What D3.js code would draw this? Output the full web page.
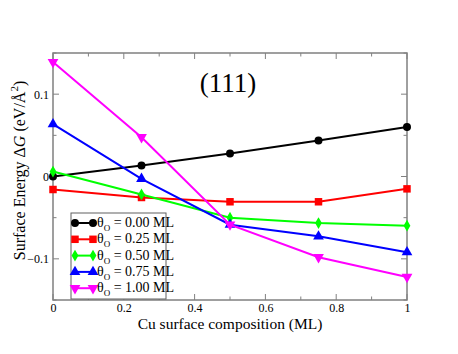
<!DOCTYPE html>
<html>
<head>
<meta charset="utf-8">
<script src="https://cdn.jsdelivr.net/npm/d3@7"></script>
<style>
  body { margin: 0; background: #fff; }
  text { font-family: 'Liberation Serif', 'Times New Roman', serif; }
</style>
</head>
<body>
<div id="chart"></div>
<script>
let xs = [0, 0.25, 0.5, 0.75, 1]
let labels = ['0.00', '0.25', '0.50', '0.75', '1.00']
let theta000 = [0.0, 0.0133, 0.028, 0.0436, 0.060]
let theta025 = [-0.0158, -0.0255, -0.0307, -0.0307, -0.015]
let theta050 = [0.006, -0.0218, -0.050, -0.0565, -0.0598]
let theta075 = [0.0635, -0.0028, -0.0585, -0.0727, -0.092]
let theta100 = [0.139, 0.0477, -0.0585, -0.098, -0.122]
let colors = ['#000000', '#ff0000', '#00ff00', '#0000ff', '#ff00ff']
let symbols = ['circle', 'square', 'diamond', 'triangle', 'triangledown']
let xTicks = [0, 0.2, 0.4, 0.6, 0.8, 1]
let yTicks = [-0.1, 0, 0.1]

let series = [theta000, theta025, theta050, theta075, theta100].map((vals, i) => {
  return {
    label: labels[i],
    color: colors[i],
    symbol: symbols[i],
    values: vals.map((v, j) => ({ x: xs[j], y: v }))
  }
})

let margin = { top: 53, left: 53, right: 51, bottom: 54 }
let width = 458 - margin.left - margin.right
let height = 354 - margin.top - margin.bottom

let svg = d3
  .select('#chart')
  .append('svg')
  .attr('width', 458)
  .attr('height', 354)
  .append('g')
  .attr('transform', 'translate(' + margin.left + ',' + margin.top + ')')

let xPositionScale = d3.scaleLinear().domain([0, 1]).range([0, width])
let yPositionScale = d3.scaleLinear().domain([-0.15, 0.15]).range([height, 0])

let frameColor = '#808080'

// ticks pointing inward on all four sides
function drawTicks() {
  let g = svg.append('g').attr('class', 'ticks')
  d3.range(0, 1.0001, 0.1).forEach((t, i) => {
    let len = i % 2 === 0 ? 6 : 3.5
    let x = xPositionScale(t)
    g.append('line').attr('x1', x).attr('x2', x).attr('y1', height).attr('y2', height - len)
    g.append('line').attr('x1', x).attr('x2', x).attr('y1', 0).attr('y2', len)
  })
  d3.range(-0.15, 0.1501, 0.05).forEach((t, i) => {
    let len = i % 2 === 1 ? 6 : 3.5
    let y = yPositionScale(t)
    g.append('line').attr('x1', 0).attr('x2', len).attr('y1', y).attr('y2', y)
    g.append('line').attr('x1', width).attr('x2', width - len).attr('y1', y).attr('y2', y)
  })
  g.selectAll('line').attr('stroke', frameColor).attr('stroke-width', 1)
}
drawTicks()

svg
  .append('rect')
  .attr('x', 0)
  .attr('y', 0)
  .attr('width', width)
  .attr('height', height)
  .attr('fill', 'none')
  .attr('stroke', frameColor)
  .attr('stroke-width', 1.5)

let xAxis = d3
  .axisBottom(xPositionScale)
  .tickValues(xTicks)
  .tickSize(0)
  .tickPadding(3)
  .tickFormat(d => (d === 0 || d === 1 ? d3.format('d')(d) : d3.format('.1f')(d)))

svg
  .append('g')
  .attr('class', 'axis x-axis')
  .attr('transform', 'translate(0,' + height + ')')
  .call(xAxis)

let yAxis = d3
  .axisLeft(yPositionScale)
  .tickValues(yTicks)
  .tickSize(0)
  .tickPadding(4)
  .tickFormat(d => (d === 0 ? '0' : d3.format('.1f')(d)))

svg
  .append('g')
  .attr('class', 'axis y-axis')
  .call(yAxis)

svg.selectAll('.axis .domain').remove()
svg
  .selectAll('.axis text')
  .attr('font-family', "'Liberation Serif', serif")
  .attr('font-size', 12)
  .attr('fill', '#000')

let line = d3
  .line()
  .x(d => xPositionScale(d.x))
  .y(d => yPositionScale(d.y))

let symbolTypes = {
  circle: d3.symbol().type(d3.symbolCircle).size(50),
  square: d3.symbol().type(d3.symbolSquare).size(56),
  diamond: d3.symbol().type(d3.symbolDiamond).size(40),
  triangle: d3.symbol().type(d3.symbolTriangle).size(50),
  triangledown: d3.symbol().type(d3.symbolTriangle).size(50)
}

series.forEach(s => {
  svg
    .append('path')
    .datum(s.values)
    .attr('d', line)
    .attr('fill', 'none')
    .attr('stroke', s.color)
    .attr('stroke-width', 2)

  svg
    .selectAll('.pt-' + s.symbol)
    .data(s.values)
    .enter()
    .append('path')
    .attr('class', 'pt-' + s.symbol)
    .attr('d', symbolTypes[s.symbol])
    .attr('transform', d => {
      let t = 'translate(' + xPositionScale(d.x) + ',' + yPositionScale(d.y) + ')'
      if (s.symbol === 'triangledown') t += ' rotate(180)'
      return t
    })
    .attr('fill', s.color)
})

// title
svg
  .append('text')
  .attr('x', 175)
  .attr('y', 39)
  .attr('text-anchor', 'middle')
  .attr('font-size', 27)
  .text('(111)')

// axis labels
svg
  .append('text')
  .attr('x', width / 2)
  .attr('y', height + 29)
  .attr('text-anchor', 'middle')
  .attr('font-size', 15.5)
  .text('Cu surface composition (ML)')

let yLabel = svg
  .append('text')
  .attr('transform', 'translate(' + (-28) + ',' + (yPositionScale(0) - 6) + ') rotate(-90)')
  .attr('text-anchor', 'middle')
  .attr('font-size', 16)
yLabel.append('tspan').text('Surface Energy Δ')
yLabel.append('tspan').attr('font-style', 'italic').text('G')
yLabel.append('tspan').text(' (eV/Å')
yLabel.append('tspan').attr('font-size', 11).attr('dy', -7).text('2')
yLabel.append('tspan').attr('dy', 7).text(')')

// legend
let legend = svg.append('g').attr('transform', 'translate(18,160)')
legend
  .append('rect')
  .attr('x', 0)
  .attr('y', 0)
  .attr('width', 95)
  .attr('height', 86)
  .attr('fill', '#fff')
  .attr('stroke', '#606060')
  .attr('stroke-width', 1)

series.forEach((s, i) => {
  let y = 10 + i * 16.3
  let item = legend.append('g').attr('transform', 'translate(0,' + y + ')')
  item
    .append('line')
    .attr('x1', 4)
    .attr('x2', 22)
    .attr('y1', 0)
    .attr('y2', 0)
    .attr('stroke', s.color)
    .attr('stroke-width', 2)
  ;[4, 22].forEach(px => {
    item
      .append('path')
      .attr('d', symbolTypes[s.symbol])
      .attr('transform', 'translate(' + px + ',0)' + (s.symbol === 'triangledown' ? ' rotate(180)' : ''))
      .attr('fill', s.color)
  })
  let t = item
    .append('text')
    .attr('x', 26)
    .attr('y', 4)
    .attr('font-size', 14)
  t.append('tspan').text('θ')
  t.append('tspan').attr('font-size', 9).attr('dy', 4).text('O')
  t.append('tspan').attr('dy', -4).text(' = ' + s.label + ' ML')
})
</script>
</body>
</html>
